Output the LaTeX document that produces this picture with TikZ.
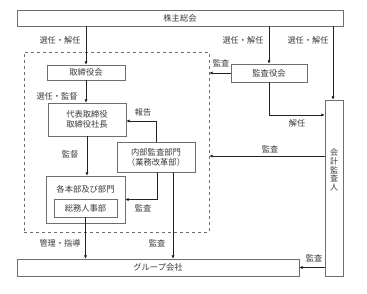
\documentclass[tikz,border=0pt]{standalone}
\usepackage{fontspec}
\setmainfont{Noto Sans CJK JP}
\usepackage{tikz}
\usetikzlibrary{arrows.meta,calc,positioning}
\definecolor{ink}{HTML}{222222}
\definecolor{frame}{HTML}{6E6E6E}
\definecolor{txt}{HTML}{3A3A3A}

\tikzset{
  orgbox/.style={draw=frame,line width=0.8pt,fill=white,text=txt,inner sep=0pt,
    font=\fontsize{8.3}{10}\selectfont,align=center},
  lbl/.style={text=txt,font=\fontsize{8.2}{9}\selectfont,inner sep=0pt},
  arr/.style={-{Latex[length=3.2pt,width=3.2pt]},draw=ink,line width=0.9pt}
}

\begin{document}
\begin{tikzpicture}[x=1pt,y=-1pt]
\useasboundingbox (0,0) rectangle (367,293);
% dashed area
\node[draw=frame,dashed,line width=0.7pt,minimum width=185pt,minimum height=180pt] (kanri) at (116.5,142) {};
% boxes
\node[orgbox,minimum width=326pt,minimum height=16pt] (soukai) at (180,18) {株主総会};
\node[orgbox,minimum width=78pt,minimum height=15pt] (torishimari) at (86,72.5) {取締役会};
\node[orgbox,minimum width=76pt,minimum height=18pt] (kansayaku) at (269,73) {監査役会};
\node[orgbox,minimum width=18pt,minimum height=176pt] (kaikei) at (334,188) {};
\node[lbl,align=center,font=\fontsize{8}{8.8}\selectfont] (kaikeitxt) at (334,170) {会\\計\\監\\査\\人};
\node[orgbox,minimum width=78pt,minimum height=33pt] (daihyo) at (87,119.5) {代表取締役\\取締役社長};
\node[orgbox,minimum width=78pt,minimum height=30pt] (naibu) at (156,157) {内部監査部門\\（業務改革部）};
\node[orgbox,minimum width=79pt,minimum height=47pt] (honbu) at (85.5,199.5) {};
\node[lbl,font=\fontsize{8.3}{9}\selectfont] (honbutxt) at (85.5,189.5) {各本部及び部門};
\node[orgbox,minimum width=63pt,minimum height=18pt] (soumu) at (85.5,208) {総務人事部};
\node[orgbox,minimum width=282pt,minimum height=17pt] (group) at (158,267.5) {グループ会社};
\coordinate (kaininY) at (0,115);
\coordinate (kansaY) at (0,156);
\coordinate (houkokuY) at (0,121);
% connectors
\draw[arr] (torishimari.north |- soukai.south) -- (torishimari.north);
\draw[arr] (kansayaku.north |- soukai.south) -- (kansayaku.north);
\draw[arr] ([xshift=-1pt]kaikei.north |- soukai.south) -- ([xshift=-1pt]kaikei.north);
\draw[arr] (kansayaku.west) -- (kanri.east |- kansayaku.west);
\draw[arr] (kansayaku.south) |- (kaikei.west |- kaininY);
\draw[arr] (kaikei.west |- kansaY) -- (kanri.east |- kansaY);
\draw[arr] (torishimari.south) -- (torishimari.south |- daihyo.north);
\draw[arr] (daihyo.south) -- (daihyo.south |- honbu.north);
\draw[arr] (naibu.north) |- (daihyo.east |- houkokuY);
\draw[arr] ([xshift=1pt]naibu.south) |- (honbu.east);
\draw[arr] ([xshift=17pt]naibu.south) -- ([xshift=17pt]naibu.south |- group.north);
\draw[arr] (soumu.south) -- (soumu.south |- group.north);
\draw[arr] (kaikei.west |- group.east) -- (group.east);
% labels
\node[lbl] (l1) at (60,40) {選任・解任};
\node[lbl] (l2) at (243,40) {選任・解任};
\node[lbl] (l3) at (308,40) {選任・解任};
\node[lbl] (l4) at (221,63) {監査};
\node[lbl] (l5) at (297,123) {解任};
\node[lbl] (l6) at (270,149) {監査};
\node[lbl] (l7) at (57,96) {選任・監督};
\node[lbl] (l8) at (70,154) {監督};
\node[lbl] (l9) at (143,112) {報告};
\node[lbl] (l10) at (143,208) {監査};
\node[lbl] (l11) at (60,243) {管理・指導};
\node[lbl] (l12) at (157,243) {監査};
\node[lbl] (l13) at (314,258) {監査};
\end{tikzpicture}
\end{document}
